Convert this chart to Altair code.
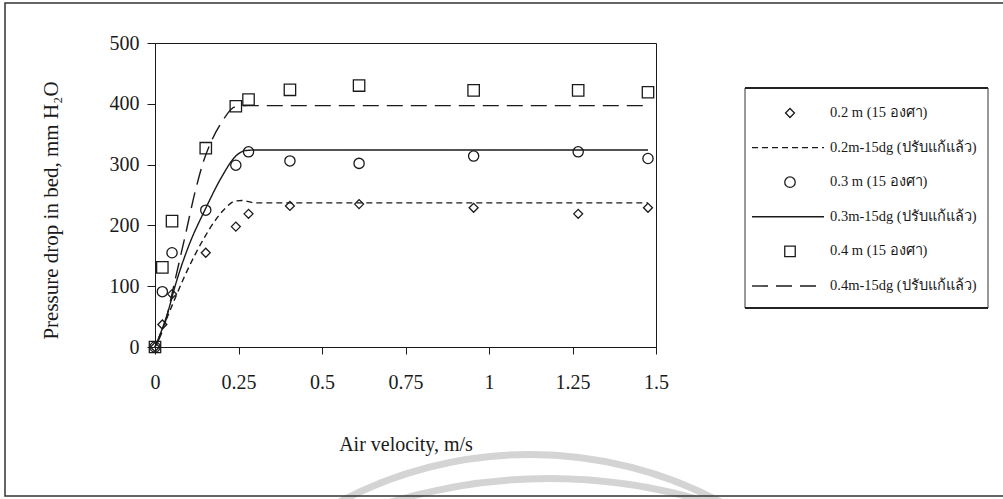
import altair as alt
import pandas as pd
import math

# ---------------- data ----------------
velocity = [0, 0.022, 0.051, 0.152, 0.242, 0.28, 0.404, 0.611, 0.954, 1.267, 1.476]
meas_02 = [0, 37, 87, 155, 198, 219, 232, 235, 229, 219, 229]
meas_03 = [0, 91, 155, 225, 299, 321, 306, 302, 314, 321, 310]
meas_04 = [0, 131, 207, 327, 396, 407, 423, 430, 422, 422, 419]

fit_02_v = [0, 0.03, 0.06, 0.09, 0.12, 0.15, 0.18, 0.21, 0.24, 0.26, 0.3, 1.476]
fit_02_p = [0, 40, 80, 118, 152, 182, 208, 228, 240, 241, 237, 237]
fit_03_v = [0, 0.04, 0.06, 0.1, 0.15, 0.2, 0.24, 0.27, 0.3, 1.476]
fit_03_p = [0, 60, 100, 165, 226, 280, 313, 323, 324, 324]
fit_04_v = [0, 0.03, 0.06, 0.09, 0.12, 0.145, 0.17, 0.2, 0.24, 0.28, 1.476]
fit_04_p = [0, 39, 110, 182, 255, 305, 340, 370, 395, 397, 397]

meas_names = ["0.2 m (15 องศา)", "0.3 m (15 องศา)", "0.4 m (15 องศา)"]
fit_names = ["0.2m-15dg (ปรับแก้แล้ว)", "0.3m-15dg (ปรับแก้แล้ว)", "0.4m-15dg (ปรับแก้แล้ว)"]
shapes = ["diamond", "circle", "square"]
dashes = [[6, 4], [1, 0], [16, 8]]

x_ticks = [0, 0.25, 0.5, 0.75, 1, 1.25, 1.5]
y_ticks = [0, 100, 200, 300, 400, 500]

SERIF = "Liberation Serif, Times New Roman, serif"
INK = "#1a1a1a"

# ---------------- tables ----------------
pts = pd.concat([
    pd.DataFrame({"v": velocity, "p": m, "series": n})
    for m, n in zip([meas_02, meas_03, meas_04], meas_names)
])
fits = pd.concat([
    pd.DataFrame({"v": fv, "p": fp, "series": n})
    for fv, fp, n in zip([fit_02_v, fit_03_v, fit_04_v],
                         [fit_02_p, fit_03_p, fit_04_p], fit_names)
])

W, H = 501, 304
PAD_L, PAD_T = 155, 43

xs = alt.Scale(domain=[0, 1.5], nice=False)
ys = alt.Scale(domain=[0, 500], nice=False)

one = alt.Data(values=[{"a": 1}])

# watermark arcs (scan artefact)
arcs = [
    alt.Chart(one).mark_arc(radius=403, radius2=410, theta=2 * math.pi - 0.5,
                            theta2=2 * math.pi + 0.5, color="#d4d4d4")
    .encode(x=alt.value(375), y=alt.value(818)),
    alt.Chart(one).mark_arc(radius=539, radius2=546, theta=2 * math.pi - 0.3,
                            theta2=2 * math.pi + 0.3, color="#d4d4d4")
    .encode(x=alt.value(394), y=alt.value(978)),
]

frame = alt.Chart(one).mark_rect(fillOpacity=0, stroke="#333", strokeWidth=1.5).encode(
    x=alt.value(5 - PAD_L), x2=alt.value(1010 - PAD_L),
    y=alt.value(3 - PAD_T), y2=alt.value(496 - PAD_T))

lines = alt.Chart(fits).mark_line(interpolate="monotone", strokeWidth=1.4, color=INK).encode(
    x=alt.X("v:Q", scale=xs, axis=alt.Axis(
        values=x_ticks, title="Air velocity, m/s", grid=False,
        labelFontSize=20, labelFont=SERIF, labelColor=INK, labelPadding=18,
        labelExpr="datum.value == 0 ? '0' : format(datum.value, '.2~f')",
        tickSize=7, tickColor=INK, domainColor=INK, labelFlush=False,
        titleFont=SERIF, titleFontSize=20, titleFontWeight="normal", titleColor=INK,
        titleY=103, titleBaseline="alphabetic")),
    y=alt.Y("p:Q", scale=ys, axis=alt.Axis(
        values=y_ticks, title="Pressure drop in bed, mm H₂O", grid=False,
        labelFontSize=20, labelFont=SERIF, labelColor=INK, labelPadding=8,
        tickSize=8, tickColor=INK, domainColor=INK, labelFlush=False,
        titleFont=SERIF, titleFontSize=21, titleFontWeight="normal", titleColor=INK,
        titleX=-104, titleY=167, titleAngle=270, titleAlign="center",
        titleBaseline="middle")),
    strokeDash=alt.StrokeDash("series:N", scale=alt.Scale(domain=fit_names, range=dashes),
                              legend=None),
    detail="series:N",
)

points = alt.Chart(pts).mark_point(filled=False, strokeWidth=1.3, color=INK, opacity=1).encode(
    x=alt.X("v:Q", scale=xs),
    y=alt.Y("p:Q", scale=ys),
    shape=alt.Shape("series:N", scale=alt.Scale(domain=meas_names, range=shapes), legend=None),
    size=alt.Size("series:N", scale=alt.Scale(domain=meas_names, range=[80, 130, 130]),
                  legend=None),
)

# ---------------- hand-made legend ----------------
LX0, LX1, LY0, LY1 = 745, 988, 88, 308
legend_layers = [
    alt.Chart(one).mark_rect(fillOpacity=0, stroke="#333", strokeWidth=1).encode(
        x=alt.value(LX0 - PAD_L), x2=alt.value(LX1 - PAD_L),
        y=alt.value(LY0 - PAD_T), y2=alt.value(LY1 - PAD_T)),
    alt.Chart(one).mark_rule(stroke="#222", strokeWidth=2).encode(
        x=alt.value(LX0 - PAD_L), x2=alt.value(LX1 - PAD_L), y=alt.value(LY0 - PAD_T)),
    alt.Chart(one).mark_rule(stroke="#222", strokeWidth=2).encode(
        x=alt.value(LX0 - PAD_L), x2=alt.value(LX1 - PAD_L), y=alt.value(LY1 - PAD_T)),
]
entries = []
for i in range(3):
    entries.append(("sym", meas_names[i], shapes[i]))
    entries.append(("line", fit_names[i], dashes[i]))
for k, (kind, label, style) in enumerate(entries):
    yy = 113 + k * 34.6 - PAD_T
    if kind == "sym":
        legend_layers.append(
            alt.Chart(one).mark_point(shape=style, filled=False, strokeWidth=1.3, color=INK,
                                      opacity=1, size=80 if style == "diamond" else 110)
            .encode(x=alt.value(790 - PAD_L), y=alt.value(yy)))
    else:
        legend_layers.append(
            alt.Chart(one).mark_rule(stroke=INK, strokeWidth=1.4, strokeDash=style)
            .encode(x=alt.value(752 - PAD_L), x2=alt.value(824 - PAD_L), y=alt.value(yy)))
    legend_layers.append(
        alt.Chart(one).mark_text(align="left", baseline="middle", font=SERIF,
                                 fontSize=14.5, color=INK)
        .encode(x=alt.value(830 - PAD_L), y=alt.value(yy), text=alt.value(label)))

chart = alt.layer(*arcs, frame, lines, points, *legend_layers).properties(
    width=W, height=H,
    padding={"left": PAD_L, "top": PAD_T, "right": 1003 - PAD_L - W, "bottom": 499 - PAD_T - H},
    autosize=alt.AutoSizeParams(type="none"),
    background="white",
).configure_view(stroke=INK, strokeWidth=1)

chart.save("out.html", embed_options={"renderer": "svg", "actions": False})
